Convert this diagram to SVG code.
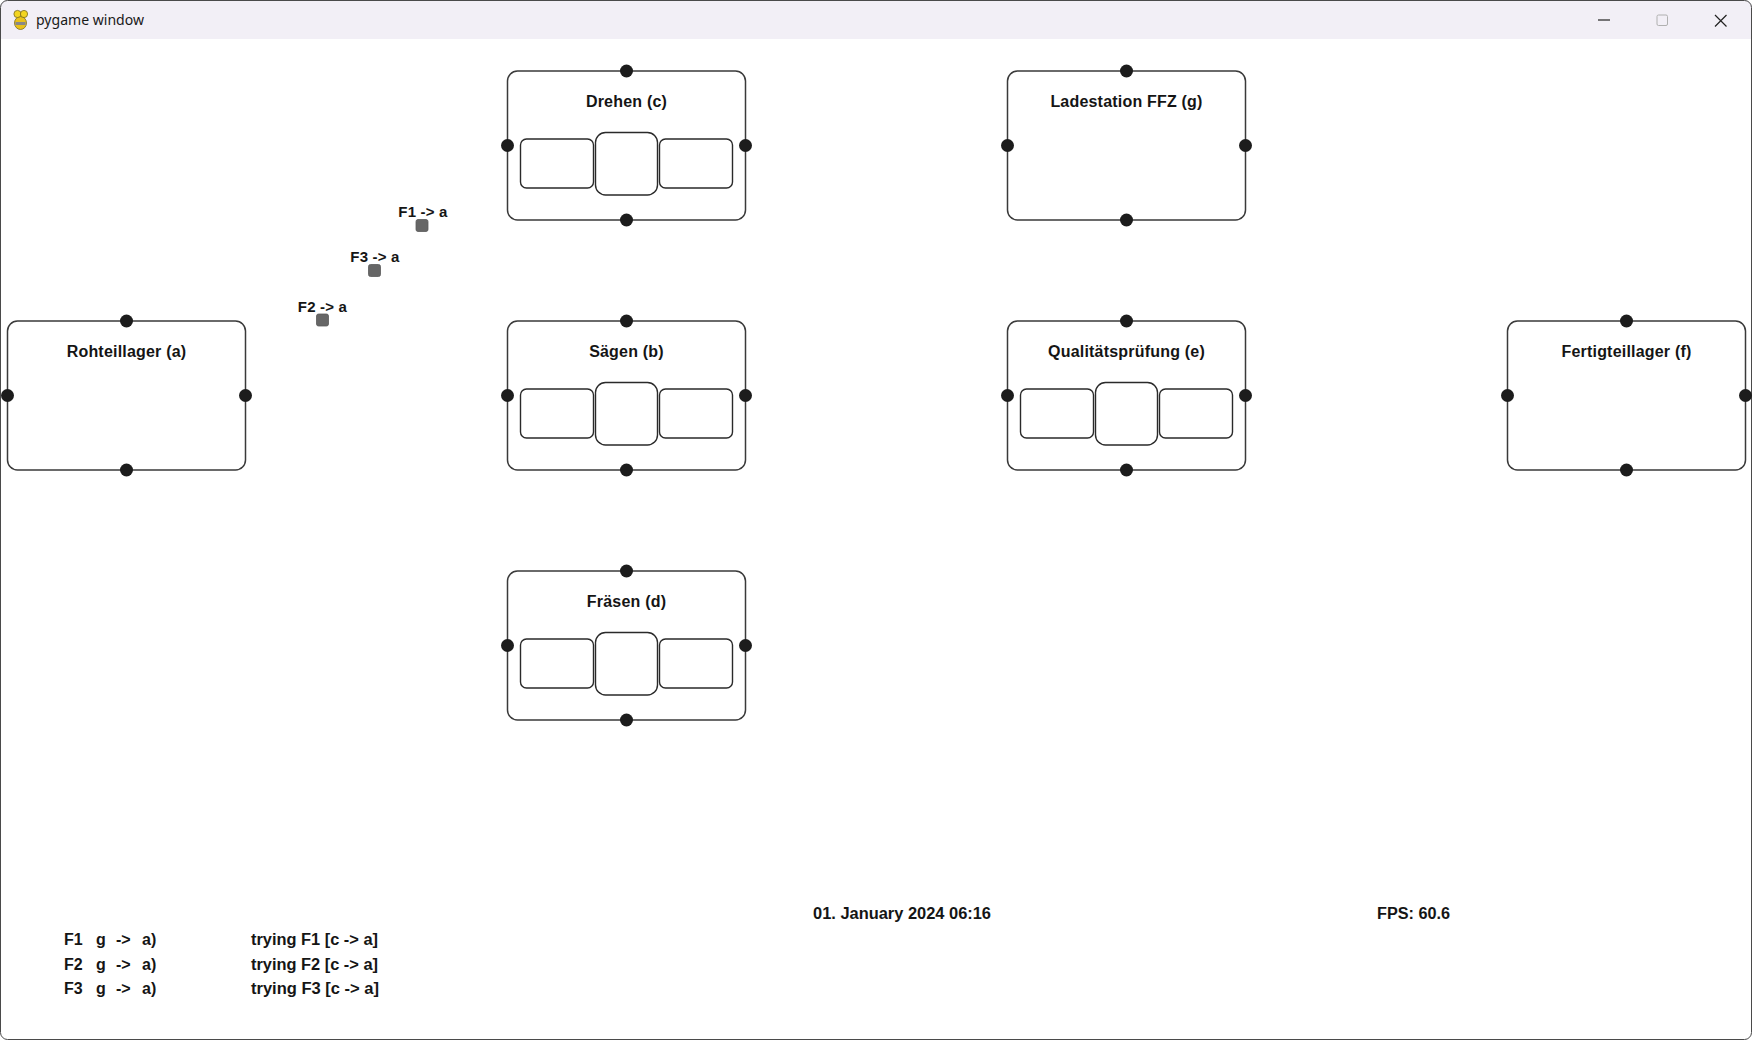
<svg xmlns="http://www.w3.org/2000/svg" xmlns:xlink="http://www.w3.org/1999/xlink" width="1752" height="1040" viewBox="0 0 1752 1040">
<style>
.frame{fill:none;stroke:#3a3a3a;stroke-width:1.5}
.slot{fill:#fff;stroke:#2a2a2a;stroke-width:1.4}
.dot{fill:#1c1c1c}
.title{font-family:"Liberation Sans",Arial,sans-serif;font-weight:bold;font-size:16px;fill:#151515;text-anchor:middle;letter-spacing:0.2px}
.vlabel{font-family:"Liberation Sans",Arial,sans-serif;font-weight:bold;font-size:15px;fill:#151515;text-anchor:middle;letter-spacing:0.2px}
.veh{fill:#666;stroke:#5a5a5a;stroke-width:0.8}
.info{font-family:"Liberation Sans",Arial,sans-serif;font-weight:bold;font-size:16px;fill:#151515}
.wtitle{font-family:"Noto Sans","Open Sans",sans-serif;font-size:15px;fill:#1a1a1a}
</style>
<defs>
<g id="frame">
<rect class="frame" x="0" y="0" width="238" height="149" rx="10"/>
<circle class="dot" cx="119" cy="0" r="6.5"/>
<circle class="dot" cx="119" cy="149" r="6.5"/>
<circle class="dot" cx="0" cy="74.5" r="6.5"/>
<circle class="dot" cx="238" cy="74.5" r="6.5"/>
</g>
<g id="slots">
<rect class="slot" x="13" y="68" width="73" height="49" rx="6"/>
<rect class="slot" x="152" y="68" width="73" height="49" rx="6"/>
<rect class="slot" x="88" y="61.5" width="62" height="62.5" rx="10"/>
</g>
</defs>
<rect x="0" y="0" width="1752" height="1040" fill="#fff"/>
<g id="window-chrome">
<path d="M0 39 V8 Q0 0 8 0 H1744 Q1752 0 1752 8 V39 Z" fill="#f2eff6"/>
<rect x="0.5" y="0.5" width="1751" height="1039" rx="7" fill="none" stroke="#4a4a4a" stroke-width="1"/>
<g id="icon">
<ellipse cx="20.5" cy="23" rx="6" ry="6.5" fill="#e9c21a" stroke="#7a6a1a" stroke-width="0.8"/>
<circle cx="17.5" cy="14" r="3.6" fill="#f3d520" stroke="#7a6a1a" stroke-width="0.8"/>
<circle cx="24" cy="14" r="3.6" fill="#f3d520" stroke="#7a6a1a" stroke-width="0.8"/>
<rect x="15.5" y="22" width="10" height="3" fill="#888"/>
</g>
<text class="wtitle" x="36" y="25" textLength="108" lengthAdjust="spacingAndGlyphs">pygame window</text>
<line x1="1598" y1="20" x2="1610" y2="20" stroke="#222" stroke-width="1.2"/>
<rect x="1657" y="15" width="10.5" height="10.5" rx="1.5" fill="none" stroke="#b0b0b0" stroke-width="1"/>
<path d="M1715 15 L1726.5 26.5 M1726.5 15 L1715 26.5" stroke="#222" stroke-width="1.2" fill="none"/>
</g>
<g id="connectors"></g>
<g id="node-a" transform="translate(7.5,321)">
<use href="#frame"/>
<text class="title" x="119" y="36">Rohteillager (a)</text>
</g>
<g id="node-b" transform="translate(507.5,321)">
<use href="#frame"/>
<use href="#slots"/>
<text class="title" x="119" y="36">Sägen (b)</text>
</g>
<g id="node-c" transform="translate(507.5,71)">
<use href="#frame"/>
<use href="#slots"/>
<text class="title" x="119" y="36">Drehen (c)</text>
</g>
<g id="node-d" transform="translate(507.5,571)">
<use href="#frame"/>
<use href="#slots"/>
<text class="title" x="119" y="36">Fräsen (d)</text>
</g>
<g id="node-e" transform="translate(1007.5,321)">
<use href="#frame"/>
<use href="#slots"/>
<text class="title" x="119" y="36">Qualitätsprüfung (e)</text>
</g>
<g id="node-f" transform="translate(1507.5,321)">
<use href="#frame"/>
<text class="title" x="119" y="36">Fertigteillager (f)</text>
</g>
<g id="node-g" transform="translate(1007.5,71)">
<use href="#frame"/>
<text class="title" x="119" y="36">Ladestation FFZ (g)</text>
</g>
<g id="vehicle-F1">
<text class="vlabel" x="423" y="216.5">F1 -&gt; a</text>
<rect class="veh" x="416" y="219.5" width="12" height="12" rx="2"/>
</g>
<g id="vehicle-F3">
<text class="vlabel" x="375" y="261.5">F3 -&gt; a</text>
<rect class="veh" x="368.5" y="264.5" width="12" height="12" rx="2"/>
</g>
<g id="vehicle-F2">
<text class="vlabel" x="322.5" y="311.5">F2 -&gt; a</text>
<rect class="veh" x="316.5" y="314" width="12" height="12" rx="2"/>
</g>
<g id="status">
<text class="info" y="945"><tspan x="64">F1</tspan><tspan x="96">g</tspan><tspan x="116">-&gt;</tspan><tspan x="142">a)</tspan></text>
<text class="info" y="969.5"><tspan x="64">F2</tspan><tspan x="96">g</tspan><tspan x="116">-&gt;</tspan><tspan x="142">a)</tspan></text>
<text class="info" y="994"><tspan x="64">F3</tspan><tspan x="96">g</tspan><tspan x="116">-&gt;</tspan><tspan x="142">a)</tspan></text>
<text class="info" x="251" y="945" textLength="127" lengthAdjust="spacingAndGlyphs">trying F1 [c -&gt; a]</text>
<text class="info" x="251" y="969.5" textLength="127" lengthAdjust="spacingAndGlyphs">trying F2 [c -&gt; a]</text>
<text class="info" x="251" y="994" textLength="128" lengthAdjust="spacingAndGlyphs">trying F3 [c -&gt; a]</text>
<text class="info" x="813" y="919" textLength="178" lengthAdjust="spacingAndGlyphs">01. January 2024 06:16</text>
<text class="info" x="1377" y="919" textLength="73" lengthAdjust="spacingAndGlyphs">FPS: 60.6</text>
</g>
</svg>
